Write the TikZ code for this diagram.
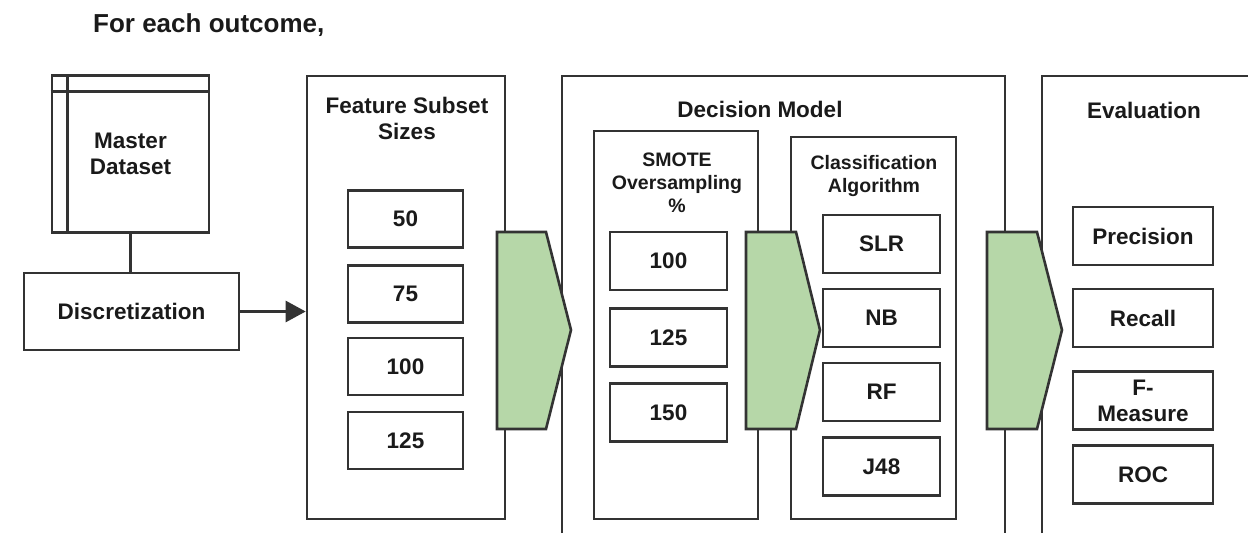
\documentclass[tikz,border=0pt]{standalone}
\usepackage{fontspec}
\setmainfont{Liberation Sans}
\usetikzlibrary{arrows.meta}
\definecolor{edge}{HTML}{333333}
\definecolor{ink}{HTML}{1A1A1A}
\definecolor{flow}{HTML}{B6D7A8}
\begin{document}
\begin{tikzpicture}[x=1pt,y=-1pt,
  every node/.style={text=ink},
  txt/.style={font=\bfseries\fontsize{22.5}{26}\selectfont, align=center, inner sep=0pt},
  smalltxt/.style={font=\bfseries\fontsize{19.5}{23}\selectfont, align=center, inner sep=0pt},
  frame/.style={draw=edge, line width=2.6pt},
  boxnode/.style={frame, rectangle, inner sep=0pt, txt},
  itembox/.style={boxnode, minimum height=57pt},
  flowarrow/.style={draw=edge, fill=flow, line width=2.6pt},
  link/.style={draw=edge, line width=2.6pt}
]
\useasboundingbox (0,0) rectangle (1248,533);

% title
\node[anchor=base west, font=\bfseries\fontsize{26}{30}\selectfont, inner sep=0pt] (title) at (93,32) {For each outcome,};

% master dataset
\node[boxnode, minimum width=157pt, minimum height=157pt] (master) at (130.5,154) {Master\\Dataset};
\draw[link] ([xshift=17pt]master.north west) -- ([xshift=17pt]master.south west);
\draw[link] ([yshift=-17pt]master.north west) -- ([yshift=-17pt]master.north east);

% discretization
\node[boxnode, minimum width=215pt, minimum height=77pt] (disc) at (131.5,311.5) {Discretization};
\draw[link] (master.south) -- (master.south |- disc.north);

% feature subset sizes
\node[frame, rectangle, inner sep=0pt, minimum width=198pt, minimum height=443pt] (feat) at (406,297.5) {};
\node[txt] (feattitle) at (407,118) {Feature Subset\\Sizes};
\node[itembox, minimum width=115pt] (f50) at (405.5,219) {50};
\node[itembox, minimum width=115pt] (f75) at (405.5,294) {75};
\node[itembox, minimum width=115pt] (f100) at (405.5,366.5) {100};
\node[itembox, minimum width=115pt] (f125) at (405.5,440.5) {125};

\draw[link, -{Triangle[length=20pt,width=21pt]}] (disc.east) -- (disc.east -| feat.west);

% decision model (open at bottom)
\coordinate (dmbl) at (562,533);
\coordinate (dmtl) at (562,76);
\coordinate (dmtr) at (1005,76);
\coordinate (dmbr) at (1005,533);
\draw[frame] (dmbl) -- (dmtl) -- (dmtr) -- (dmbr);
\node[txt] (dmtitle) at (760,109) {Decision Model};

% SMOTE
\node[frame, rectangle, inner sep=0pt, minimum width=164pt, minimum height=388pt] (smote) at (676,325) {};
\node[smalltxt] (smotetitle) at (677,183) {SMOTE\\Oversampling\\\%};
\node[itembox, minimum width=117pt, minimum height=58pt] (s100) at (668.5,261) {100};
\node[itembox, minimum width=117pt, minimum height=58pt] (s125) at (668.5,337.5) {125};
\node[itembox, minimum width=117pt, minimum height=58pt] (s150) at (668.5,412.5) {150};

% classification
\node[frame, rectangle, inner sep=0pt, minimum width=165pt, minimum height=382pt] (clf) at (873.5,328) {};
\node[smalltxt] (clftitle) at (874,176) {Classification\\Algorithm};
\node[itembox, minimum width=117pt, minimum height=58pt] (slr) at (881.5,244) {SLR};
\node[itembox, minimum width=117pt, minimum height=58pt] (nb) at (881.5,318) {NB};
\node[itembox, minimum width=117pt, minimum height=58pt] (rf) at (881.5,392) {RF};
\node[itembox, minimum width=117pt, minimum height=58pt] (j48) at (881.5,466.5) {J48};

% evaluation (open at bottom and right)
\coordinate (evbl) at (1042,533);
\coordinate (evtl) at (1042,76);
\coordinate (evtr) at (1248,76);
\draw[frame] (evbl) -- (evtl) -- (evtr);
\node[txt] (evtitle) at (1144,110) {Evaluation};
\node[itembox, minimum width=140pt, minimum height=58pt] (prec) at (1143,236) {Precision};
\node[itembox, minimum width=140pt, minimum height=58pt] (rec) at (1143,318) {Recall};
\node[itembox, minimum width=140pt, minimum height=58pt] (fm) at (1143,400.5) {F-\\Measure};
\node[itembox, minimum width=140pt, minimum height=58pt] (roc) at (1143,474.5) {ROC};

% green flow arrows
\draw[flowarrow] (497,232) -- (546,232) -- (571,330) -- (546,429) -- (497,429) -- cycle;
\draw[flowarrow] (746,232) -- (796,232) -- (820,330) -- (796,429) -- (746,429) -- cycle;
\draw[flowarrow] (987,232) -- (1037,232) -- (1062,330) -- (1037,429) -- (987,429) -- cycle;
\end{tikzpicture}
\end{document}
